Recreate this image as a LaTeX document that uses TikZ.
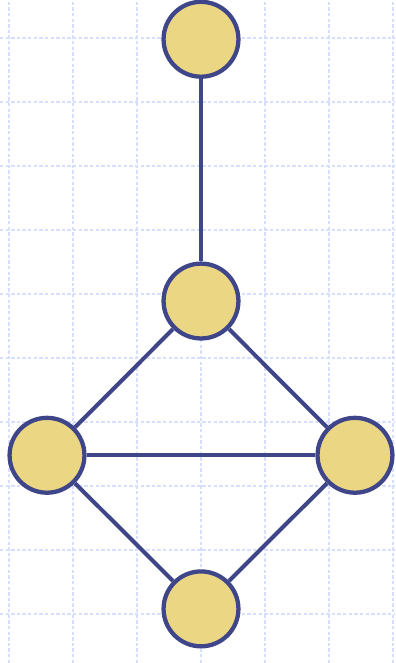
\documentclass[tikz,border=0pt]{standalone}
\definecolor{vfill}{RGB}{235,214,131}
\definecolor{vline}{RGB}{63,69,137}
\definecolor{gridblue}{RGB}{214,223,253}
\tikzset{
  vertex/.style={circle, draw=vline, fill=vfill, line width=1.9pt, minimum size=1.17cm, inner sep=0pt},
  edge/.style={draw=vline, line width=1.8pt},
  gridline/.style={gridblue, line width=0.65pt, dash pattern=on 1.5pt off 1pt}
}
\begin{document}
\begin{tikzpicture}
                    \useasboundingbox (-0.1406,-0.7656) rectangle (6.0313,9.5938);
                    % grid
                    \draw[gridline, step=1] (-0.1406,-0.7656) grid (6.0313,9.5938);

                    % vertices
                    \node[vertex] (top) at (3, 8.98) {};
                    \node[vertex] (mid) at (3, 4.89) {};
                    \node[vertex] (left) at (0.594, 2.48) {};
                    \node[vertex] (right) at (5.406, 2.48) {};
                    \node[vertex] (bottom) at (3, 0.08) {};

                    % edges
                    \draw[edge] (top) -- (mid);
                    \draw[edge] (mid) -- (left);
                    \draw[edge] (mid) -- (right);
                    \draw[edge] (left) -- (right);
                    \draw[edge] (left) -- (bottom);
                    \draw[edge] (right) -- (bottom);
                \end{tikzpicture}
\end{document}
